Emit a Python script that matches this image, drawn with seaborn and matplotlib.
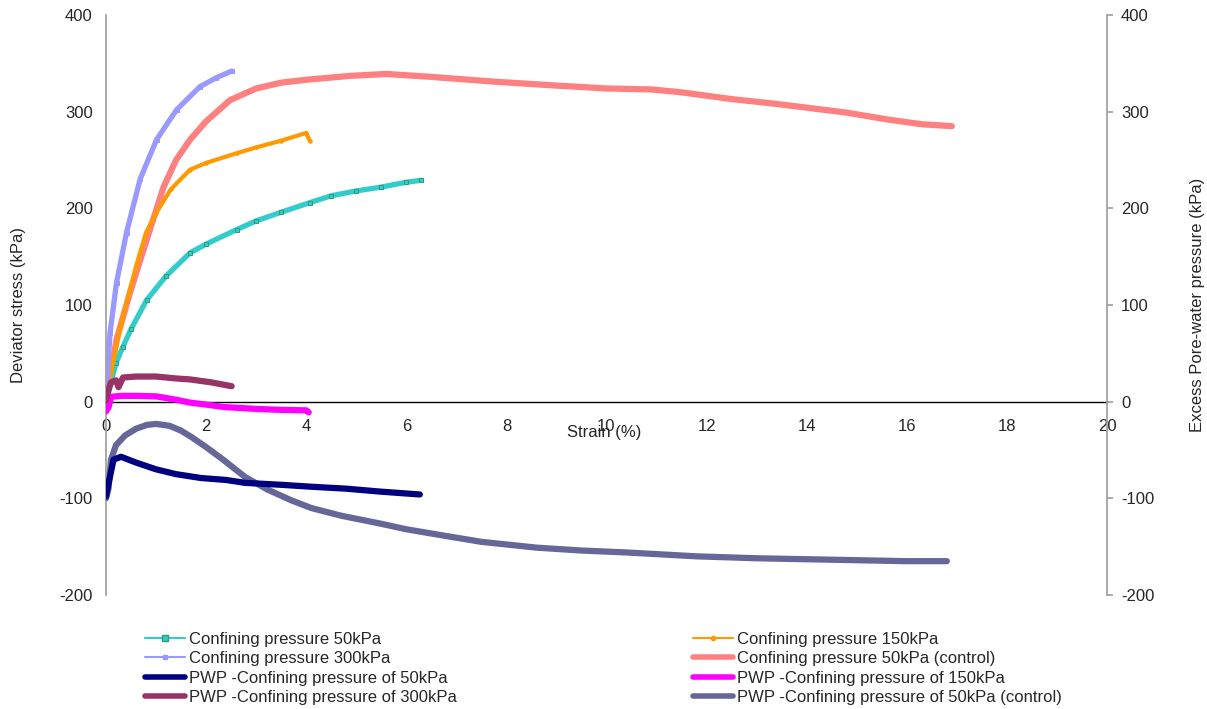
import matplotlib
matplotlib.use("Agg")
import matplotlib.pyplot as plt
import seaborn as sns
from matplotlib.lines import Line2D

# --- Data (strain %, kPa) ---
cp50_x = [0, 0.1, 0.2, 0.34, 0.5, 0.81, 1.2, 1.68, 2.0, 2.61, 3.0, 3.5, 4.08, 4.5, 5.0, 5.5, 6.0, 6.3]
cp50_y = [0, 20, 40, 57, 75, 105, 130, 154, 163, 178, 187, 196, 206, 213, 218, 222, 227, 229]

cp150_x = [0, 0.1, 0.3, 0.6, 0.8, 1.0, 1.3, 1.68, 2.0, 2.61, 3.0, 3.5, 4.0, 4.07]
cp150_y = [0, 30, 80, 140, 175, 195, 220, 240, 247, 257, 263, 270, 278, 270]

cp300_x = [0, 0.08, 0.21, 0.41, 0.68, 1.01, 1.41, 1.88, 2.2, 2.51]
cp300_y = [0, 71, 123, 175, 230, 271, 302, 326, 335, 342]

cp50c_x = [0, 0.1, 0.21, 0.48, 0.81, 1.15, 1.4, 1.68, 2.0, 2.48, 3.0, 3.5, 4.0, 4.87, 5.6,
           6.5, 7.77, 9.0, 10.0, 10.9, 11.5, 12.5, 13.4, 14.8, 15.6, 16.3, 16.9]
cp50c_y = [0, 30, 64, 113, 167, 222, 250, 271, 290, 312, 324, 330, 333, 337, 339,
           336, 331, 327, 324, 323, 320, 313, 308, 299, 292, 287, 285]

pwp50_x = [0, 0.05, 0.15, 0.3, 0.6, 1.0, 1.4, 1.9, 2.4, 2.78, 3.5, 4.1, 4.8, 5.47, 6.0, 6.27]
pwp50_y = [-98, -85, -60, -57, -63, -70, -75, -79, -81, -84, -86, -88, -90, -93, -95, -96]

pwp150_x = [0, 0.05, 0.1, 0.3, 0.6, 1.0, 1.4, 1.68, 2.0, 2.35, 3.0, 3.5, 4.0, 4.05]
pwp150_y = [-10, -6, 5, 6, 6, 5.5, 2, -1, -3, -5.5, -7.5, -8.5, -9, -11]

pwp300_x = [0, 0.05, 0.1, 0.2, 0.25, 0.34, 0.6, 1.0, 1.4, 1.68, 2.1, 2.51]
pwp300_y = [2, 12, 20, 22, 15, 25, 26, 26, 24, 23, 20, 16]

pwp50c_x = [0, 0.05, 0.1, 0.2, 0.38, 0.6, 0.82, 1.0, 1.27, 1.5, 1.72, 2.0, 2.34, 2.78, 3.23,
            3.7, 4.1, 4.7, 5.47, 6.0, 6.8, 7.5, 8.6, 9.5, 10.4, 11.8, 13.0, 14.0, 15.0, 16.0, 16.8]
pwp50c_y = [-100, -90, -60, -45, -35, -28, -24, -23, -25, -30, -37, -47, -60, -78, -91,
            -102, -110, -118, -126, -132, -139, -145, -151, -154, -156, -160, -162, -163, -164, -165, -165]

x_ticks = list(range(0, 21, 2))
y_ticks = list(range(-200, 401, 100))

# --- Styling ---
sns.set_theme(style="white")
plt.rcParams['font.family'] = ['Liberation Sans', 'DejaVu Sans']
plt.rcParams['axes.unicode_minus'] = False
fs = 12

fig = plt.figure(figsize=(12.07, 7.09), dpi=100)
ax = fig.add_axes([106 / 1207, 1 - 595 / 709, 1001 / 1207, 580 / 709])
ax2 = ax.twinx()

def draw(axis, x, y, color, lw, marker=None, ms=0, mec=None):
    sns.lineplot(x=x, y=y, ax=axis, color=color, linewidth=lw, sort=False, estimator=None,
                 marker=marker, markersize=ms, markeredgecolor=mec or color, legend=False)

# deviator stress curves (left axis)
draw(ax, cp50c_x, cp50c_y, "#FF8080", 4.5)
draw(ax, cp50_x, cp50_y, "#33CCCC", 3.8, "s", 3, "#2E9E7A")
draw(ax, cp150_x, cp150_y, "#FF9900", 3.0, "o", 2.5)
draw(ax, cp300_x, cp300_y, "#9999FF", 3.8, "s", 3)

# pore-water pressure curves (right axis)
draw(ax2, pwp50c_x, pwp50c_y, "#666699", 4.5)
draw(ax2, pwp50_x, pwp50_y, "#000080", 4.5)
draw(ax2, pwp150_x, pwp150_y, "#FF00FF", 4.5)
draw(ax2, pwp300_x, pwp300_y, "#993366", 4.5)

for a in (ax, ax2):
    a.set_xlim(0, 20)
    a.set_ylim(-200, 400)
    a.set_yticks(y_ticks)

ax.set_xticks(x_ticks)
ax.spines['bottom'].set_position(('data', 0))
ax.spines['bottom'].set_color('black')
ax.spines['bottom'].set_linewidth(1.0)
ax.spines['left'].set_color('#a0a0a0')
ax.spines['top'].set_visible(False)
ax.spines['right'].set_visible(False)
ax.tick_params(axis='x', length=0, pad=12.5, labelsize=fs)
ax.tick_params(axis='y', length=0, pad=9.5, labelsize=fs)

for s in ('top', 'left', 'bottom'):
    ax2.spines[s].set_visible(False)
ax2.spines['right'].set_color('#a0a0a0')
ax2.tick_params(axis='y', direction='out', length=4, color='#a0a0a0', pad=6, labelsize=fs)

ax.set_ylabel("Deviator stress (kPa)", fontsize=fs)
ax.yaxis.set_label_coords(-0.08, 0.5)
ax2.set_ylabel("Excess Pore-water pressure (kPa)", fontsize=fs)
ax2.yaxis.set_label_coords(1.083, 0.5)
ax.set_xlabel("Strain (%)", fontsize=fs)
ax.xaxis.set_label_coords(0.4975, 0.281)
ax.xaxis.label.set_va('center')

# legend, two columns placed below the axes
def h(color, lw, marker=None, ms=0, mec=None):
    return Line2D([], [], color=color, lw=lw, marker=marker, markersize=ms, markeredgecolor=mec or color)

col1 = [(h("#33CCCC", 1.5, "s", 4, "#2E9E7A"), "Confining pressure 50kPa"),
        (h("#9999FF", 1.5, "s", 3), "Confining pressure 300kPa"),
        (h("#000080", 4), "PWP -Confining pressure of 50kPa"),
        (h("#993366", 4), "PWP -Confining pressure of 300kPa")]
col2 = [(h("#FF9900", 1.5, "o", 3), "Confining pressure 150kPa"),
        (h("#FF8080", 4), "Confining pressure 50kPa (control)"),
        (h("#FF00FF", 4), "PWP -Confining pressure of 150kPa"),
        (h("#666699", 4), "PWP -Confining pressure of 50kPa (control)")]

for entries, xpos in ((col1, 145 / 1207), (col2, 693 / 1207)):
    fig.legend([e[0] for e in entries], [e[1] for e in entries],
               loc='upper left', bbox_to_anchor=(xpos, 1 - 632 / 709),
               frameon=False, fontsize=fs, handlelength=2.4, handletextpad=0.24,
               labelspacing=0.26, borderaxespad=0, borderpad=0)

fig.savefig("out.png", dpi=100)
